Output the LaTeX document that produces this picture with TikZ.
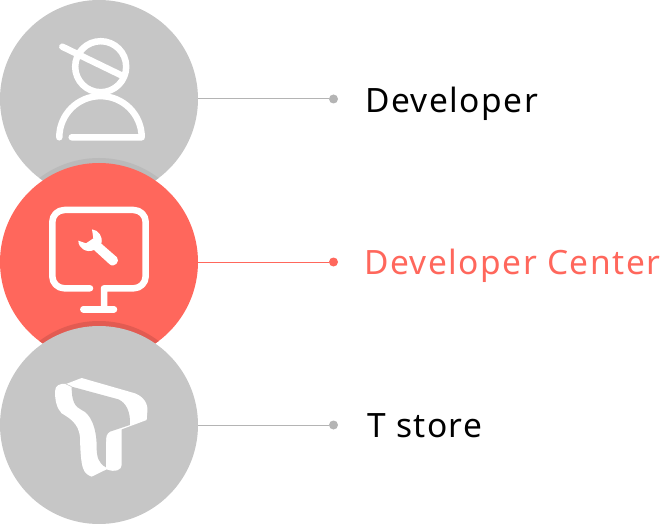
\documentclass[tikz,border=0pt]{standalone}
\usepackage{fontspec}
\setmainfont{Noto Sans}[LetterSpace=4.5]
\definecolor{disc}{HTML}{C6C6C6}
\definecolor{discdark}{HTML}{BABABA}
\definecolor{coral}{HTML}{FF675C}
\definecolor{coraldark}{HTML}{E25B52}
\definecolor{lead}{HTML}{B4B4B4}
\tikzset{
  discnode/.style={circle,minimum size=198pt,inner sep=0pt,fill=#1},
  leaddot/.style={circle,minimum size=9pt,inner sep=0pt,fill=#1},
  leadline/.style={line width=1pt,draw=#1},
  labeltext/.style={anchor=base west,inner sep=0pt,text=#1,font=\fontsize{33.5}{34}\selectfont},
  icon/.style={draw=white,line width=6.5pt,line cap=round,line join=round}
}
\begin{document}
\begin{tikzpicture}[x=1pt,y=-1pt]
\useasboundingbox (0,0) rectangle (662,524);
% discs with rims
\node[discnode=disc] (dev) at (99,99) {};
\begin{scope}
  \clip (99,99) circle (99);
  \fill[discdark] (99,257) circle (99);
\end{scope}
\node[discnode=coral] (center) at (99,262) {};
\begin{scope}
  \clip (99,262) circle (99);
  \fill[coraldark] (99,420) circle (99);
\end{scope}
\node[discnode=disc] (store) at (99,425) {};
% leaders
\node[leaddot=lead] (devdot) at (333.5,99) {};
\node[leaddot=coral] (centerdot) at (333.5,262) {};
\node[leaddot=lead] (storedot) at (333.5,425) {};
\draw[leadline=lead] (dev.east) -- (devdot);
\draw[leadline=coral] (center.east) -- (centerdot);
\draw[leadline=lead] (store.east) -- (storedot);
% labels
\node[labeltext=black] (devlabel) at (365,113) {Developer};
\node[labeltext=coral] (centerlabel) at (364,274) {Developer Center};
\node[labeltext=black] (storelabel) at (367,437) {T store};
% person icon
\draw[icon] (100.7,66.7) circle (25.5);
\draw[icon] (62.3,46.7) -- (120.7,75);
\draw[icon] (59.3,137.3) arc[start angle=180,end angle=360,radius=41.2] -- (71.7,137.3);
% monitor icon
\draw[icon] (90,288.3) -- (64.3,288.3) arc[start angle=90,end angle=180,radius=12] -- (52.3,222) arc[start angle=180,end angle=270,radius=12]
  -- (133.7,210) arc[start angle=270,end angle=360,radius=12] -- (145.7,276.3) arc[start angle=0,end angle=90,radius=12] -- (104,288.3) -- (104,309.3);
\draw[icon] (83.3,309.3) -- (114,309.3);
% wrench
\begin{scope}[shift={(70,220)},x=0.3333pt,y=-0.3333pt]
  \fill[white] (66,28) .. controls (85,30) and (100,50) .. (94,71) -- (141,112)
    .. controls (152,124) and (132,146) .. (118,132) -- (72,90)
    .. controls (50,100) and (25,85) .. (25,62) -- (48,70) -- (70,55) -- cycle;
\end{scope}
% T logo
\begin{scope}[shift={(50,370)},x=0.3333pt,y=-0.3333pt]
  \fill[white] (48,42) -- (95,24) -- (255,70) .. controls (280,80) and (295,100) .. (292,125)
    -- (290,150) -- (215,178) -- (215,285) .. controls (215,300) and (195,308) .. (170,298)
    -- (125,320) .. controls (100,310) and (92,300) .. (90,200)
    .. controls (85,160) and (60,145) .. (35,130) .. controls (20,115) and (15,90) .. (15,65)
    .. controls (15,45) and (30,40) .. (48,42) -- cycle;
  \fill[disc] (65,50) -- (205,88) .. controls (228,98) and (242,125) .. (240,165)
    -- (180,185) .. controls (170,190) and (168,200) .. (168,215) -- (168,292)
    .. controls (145,280) and (140,260) .. (140,230)
    .. controls (140,170) and (120,130) .. (95,120)
    .. controls (75,110) and (65,95) .. (65,50) -- cycle;
  \draw[disc,line width=0.5pt] (48,42) -- (65,50);
\end{scope}
\end{tikzpicture}
\end{document}
